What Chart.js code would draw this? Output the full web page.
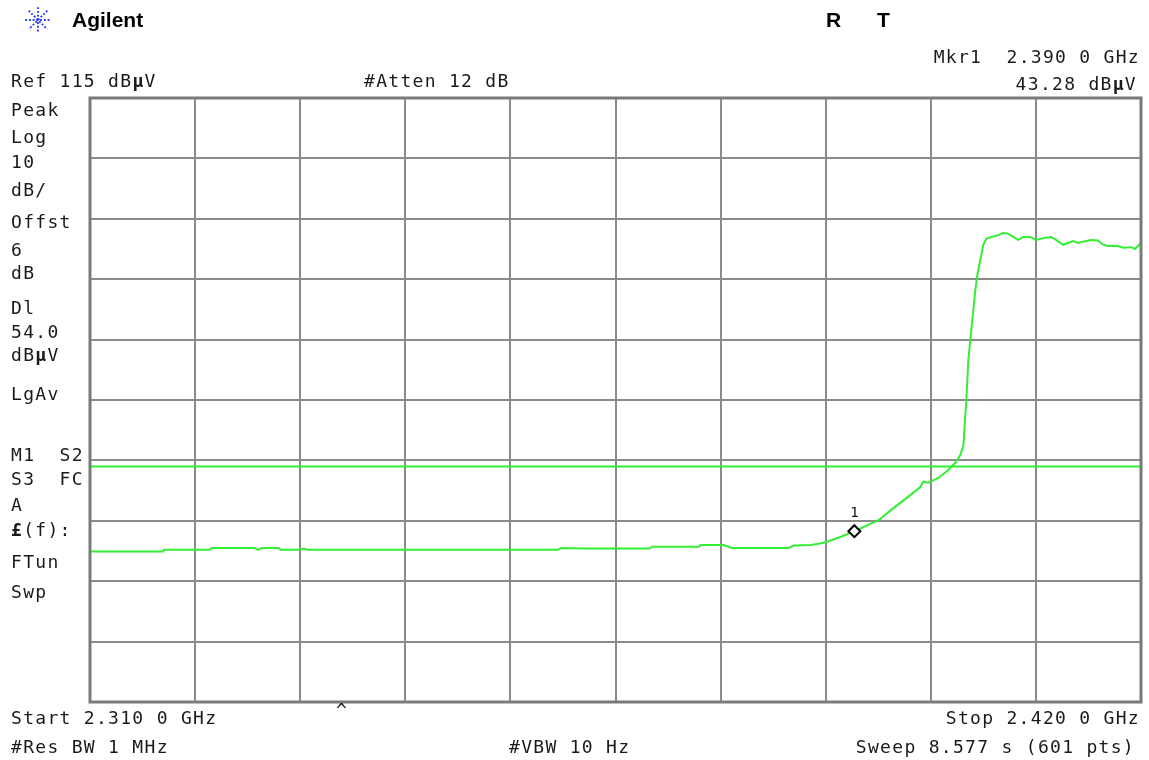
<!DOCTYPE html>
<html>
<head>
<meta charset="utf-8">
<script src="https://cdn.jsdelivr.net/npm/chart.js@4.4.1/dist/chart.umd.min.js"></script>
<style>
  html, body { margin: 0; padding: 0; background: #fff; }
  #wrap { position: relative; width: 1149px; height: 760px; overflow: hidden; }
  canvas { position: absolute; left: 0; top: 0; }
  .t { position: absolute; font-family: "DejaVu Sans Mono", monospace; font-size: 18px;
       letter-spacing: 1.3px; color: #1a1a1a; white-space: pre; line-height: 20px; }
  .r { text-align: right; }
  .logo { position: absolute; left: 72px; top: 8px; font-family: "Liberation Sans", Arial, sans-serif;
          font-weight: bold; font-size: 21px; color: #000; }
  .rt { position: absolute; top: 8px; font-family: "Liberation Sans", Arial, sans-serif;
        font-weight: bold; font-size: 21px; color: #000; }
</style>
</head>
<body>
<div id="wrap">
  <canvas id="myChart" width="1149" height="760"></canvas>
  <svg style="position:absolute;left:24px;top:6px" width="28" height="28" viewBox="0 0 24 24">
    <g stroke="#2a3cff" stroke-width="1.6" stroke-dasharray="1.6 1.6">
      <line x1="12" y1="1" x2="12" y2="23"/><line x1="1" y1="12" x2="23" y2="12"/>
      <line x1="4" y1="4" x2="20" y2="20"/><line x1="20" y1="4" x2="4" y2="20"/>
    </g>
  </svg>
  <div class="logo">Agilent</div>
  <div class="rt" style="left:826px">R</div>
  <div class="rt" style="left:877px">T</div>

  <div class="t r" style="right:9px;top:47px">Mkr1  2.390 0 GHz</div>
  <div class="t r" style="right:12px;top:74px">43.28 dB<b>µ</b>V</div>
  <div class="t" style="left:11px;top:71px">Ref 115 dB<b>µ</b>V</div>
  <div class="t" style="left:364px;top:71px">#Atten 12 dB</div>

  <div class="t" style="left:11px;top:100px">Peak</div>
  <div class="t" style="left:11px;top:127px">Log</div>
  <div class="t" style="left:11px;top:152px">10</div>
  <div class="t" style="left:11px;top:180px">dB/</div>
  <div class="t" style="left:11px;top:212px">Offst</div>
  <div class="t" style="left:11px;top:240px">6</div>
  <div class="t" style="left:11px;top:263px">dB</div>
  <div class="t" style="left:11px;top:298px">Dl</div>
  <div class="t" style="left:11px;top:322px">54.0</div>
  <div class="t" style="left:11px;top:345px">dB<b>µ</b>V</div>
  <div class="t" style="left:11px;top:384px">LgAv</div>
  <div class="t" style="left:11px;top:445px">M1  S2</div>
  <div class="t" style="left:11px;top:469px">S3  FC</div>
  <div class="t" style="left:11px;top:495px">A</div>
  <div class="t" style="left:11px;top:520px"><b>£</b>(f):</div>
  <div class="t" style="left:11px;top:552px">FTun</div>
  <div class="t" style="left:11px;top:582px">Swp</div>

  <div class="t" style="left:11px;top:708px">Start 2.310 0 GHz</div>
  <div class="t" style="left:336px;top:700px">^</div>
  <div class="t r" style="right:9px;top:708px">Stop 2.420 0 GHz</div>
  <div class="t" style="left:11px;top:737px">#Res BW 1 MHz</div>
  <div class="t" style="left:509px;top:737px">#VBW 10 Hz</div>
  <div class="t r" style="right:14px;top:737px">Sweep 8.577 s (601 pts)</div>
</div>
<script>
// trace (GHz / dBuV)
let freqGHz = [2.31000, 2.31763, 2.31773, 2.32254, 2.32274, 2.32724, 2.32755, 2.32797, 2.32974, 2.32995,
    2.33194, 2.33236, 2.33277, 2.35899, 2.35931, 2.36171, 2.36860, 2.36881, 2.37372, 2.37393,
    2.37633, 2.37717, 2.38312, 2.38365, 2.38542, 2.38626, 2.38709, 2.38866, 2.39002, 2.39253,
    2.39409, 2.39566, 2.39691, 2.39722, 2.39775, 2.39879, 2.39984, 2.40057, 2.40109, 2.40141,
    2.40151, 2.40172, 2.40193, 2.40224, 2.40245, 2.40266, 2.40287, 2.40318, 2.40350, 2.40381,
    2.40433, 2.40506, 2.40558, 2.40611, 2.40684, 2.40715, 2.40767, 2.40840, 2.40903, 2.40976,
    2.41060, 2.41112, 2.41185, 2.41237, 2.41290, 2.41342, 2.41415, 2.41478, 2.41551, 2.41593,
    2.41655, 2.41760, 2.41812, 2.41896, 2.41937, 2.42000];
let levelDbuV = [39.9, 39.9, 40.2, 40.2, 40.5, 40.5, 40.2, 40.5, 40.5, 40.2,
    40.2, 40.4, 40.2, 40.2, 40.5, 40.4, 40.4, 40.7, 40.7, 41.0,
    41.0, 40.5, 40.5, 40.9, 41.0, 41.2, 41.5, 42.4, 43.3, 45.1,
    47.1, 49.0, 50.6, 51.5, 51.3, 52.1, 53.4, 54.6, 55.9, 57.5,
    60.0, 65.0, 71.6, 76.6, 79.9, 83.2, 85.7, 88.2, 90.7, 91.7,
    92.0, 92.3, 92.7, 92.5, 91.8, 91.5, 92.0, 92.0, 91.5, 91.8,
    92.0, 91.5, 90.7, 91.0, 91.3, 91.0, 91.3, 91.5, 91.4, 90.8,
    90.5, 90.5, 90.2, 90.3, 90.0, 91.0];

let startGHz = 2.310, stopGHz = 2.420;
let refLevel = 115, bottomLevel = 15;
let displayLine = 54.0;
let markerFreq = 2.390, markerLevel = 43.28;

let trace = freqGHz.map((f, i) => ({ x: f, y: levelDbuV[i] }));

const frame = {
    id: 'frame',
    afterDraw(chart) {
        const a = chart.chartArea, ctx = chart.ctx;
        ctx.save();
        ctx.strokeStyle = '#7a7a7a';
        ctx.lineWidth = 3;
        ctx.strokeRect(a.left, a.top, a.right - a.left, a.bottom - a.top);
        // marker number
        const px = chart.scales.x.getPixelForValue(markerFreq);
        const py = chart.scales.y.getPixelForValue(markerLevel);
        ctx.fillStyle = '#111';
        ctx.font = '14px "DejaVu Sans Mono"';
        ctx.textAlign = 'center';
        ctx.fillText('1', px, py - 14);
        ctx.restore();
    }
};

new Chart("myChart", {
    type: "line",
    data: {
        datasets: [{
            data: trace,
            borderColor: '#33ee33',
            borderWidth: 2,
            pointRadius: 0,
            tension: 0,
            order: 2
        }, {
            data: [{ x: startGHz, y: displayLine }, { x: stopGHz, y: displayLine }],
            borderColor: '#33ee33',
            borderWidth: 2,
            pointRadius: 0,
            order: 3
        }, {
            type: 'scatter',
            data: [{ x: markerFreq, y: markerLevel }],
            pointStyle: 'rectRot',
            pointRadius: 6,
            borderColor: '#000',
            borderWidth: 2,
            backgroundColor: '#fff',
            order: 1
        }]
    },
    options: {
        responsive: false,
        animation: false,
        layout: { padding: { left: 90, top: 98, right: 0, bottom: 58 } },
        plugins: { legend: { display: false }, tooltip: { enabled: false } },
        scales: {
            x: {
                type: 'linear', min: startGHz, max: stopGHz,
                ticks: { display: false, count: 11 },
                grid: { color: '#8a8a8a', lineWidth: 2, drawTicks: false },
                border: { display: false },
                afterFit(s) { s.height = 0; s.paddingRight = 0; s.paddingLeft = 0; }
            },
            y: {
                min: bottomLevel, max: refLevel,
                ticks: { display: false, stepSize: 10 },
                grid: { color: '#8a8a8a', lineWidth: 2, drawTicks: false },
                border: { display: false },
                afterFit(s) { s.width = 0; s.paddingTop = 0; s.paddingBottom = 0; }
            }
        }
    },
    plugins: [frame]
});
</script>
</body>
</html>
